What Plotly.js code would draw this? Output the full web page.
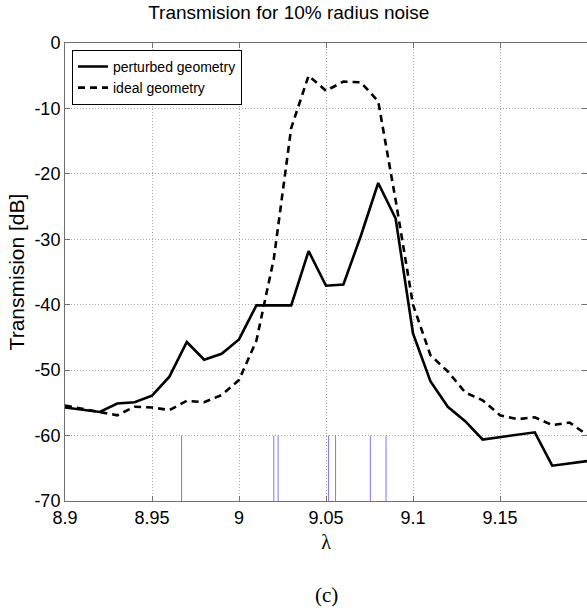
<!DOCTYPE html>
<html>
<head>
<meta charset="utf-8">
<script src="https://cdn.plot.ly/plotly-3.0.1.min.js"></script>
<style>html,body{margin:0;padding:0;background:#fff;}#chart{width:587px;height:608px;}</style>
</head>
<body>
<div id="chart"></div>
<script>
// wavelength samples
const lambda = [8.90, 8.91, 8.92, 8.93, 8.94, 8.95, 8.96, 8.97, 8.98, 8.99,
                9.00, 9.01, 9.02, 9.03, 9.04, 9.05, 9.06, 9.07, 9.08, 9.09,
                9.10, 9.11, 9.12, 9.13, 9.14, 9.15, 9.16, 9.17, 9.18, 9.19, 9.20];
// perturbed geometry (solid)
const perturbed = [-55.7, -56.0, -56.4, -55.1, -54.9, -53.9, -51.0, -45.7, -48.4, -47.5,
                   -45.3, -40.1, -40.1, -40.1, -31.8, -37.1, -36.9, -29.5, -21.4, -26.8,
                   -44.4, -51.7, -55.6, -57.8, -60.6, -60.2, -59.9, -59.5, -64.6, -64.2, -63.9];
// ideal geometry (dashed)
const ideal = [-55.4, -55.9, -56.3, -56.9, -55.6, -55.7, -56.1, -54.7, -54.9, -53.8,
               -51.5, -45.5, -33.0, -13.0, -5.0, -7.3, -5.9, -6.0, -8.9, -24.0,
               -40.0, -47.7, -50.2, -53.4, -54.6, -56.9, -57.5, -57.2, -58.4, -58.0, -59.9];
// vertical marker positions (blue lines)
const markerX = [8.967, 9.020, 9.0225, 9.0515, 9.0555, 9.0755, 9.0845];
const markerTop = -60;
const markerBottom = -70;

const xTickVals = [8.9, 8.95, 9.0, 9.05, 9.1, 9.15];
const xTickText = ['8.9', '8.95', '9', '9.05', '9.1', '9.15'];
const yTickVals = [0, -10, -20, -30, -40, -50, -60, -70];
const yTickText = ['0', '-10', '-20', '-30', '-40', '-50', '-60', '-70'];

const mx = [], my = [];
markerX.forEach(v => { mx.push(v, v, null); my.push(markerBottom, markerTop, null); });

const traces = [
  {x: mx, y: my, mode: 'lines', line: {color: '#7a7ae6', width: 1}, showlegend: false, hoverinfo: 'skip'},
  {x: lambda, y: perturbed, mode: 'lines', name: 'perturbed geometry',
   line: {color: '#000', width: 2.6}},
  {x: lambda, y: ideal, mode: 'lines', name: 'ideal geometry',
   line: {color: '#000', width: 2.6, dash: '7px,5px'}}
];

const font = 'Liberation Sans, Arial, sans-serif';
const layout = {
  width: 587, height: 608,
  margin: {l: 65, r: 0, t: 43, b: 107},
  paper_bgcolor: '#fff', plot_bgcolor: '#fff',
  font: {family: font, color: '#000', size: 18},
  title: {text: 'Transmision for 10% radius noise', x: 0.492, xref: 'container', xanchor: 'center',
          y: 0.979, yref: 'container', yanchor: 'middle', font: {family: font, size: 19, color: '#000'}},
  xaxis: {range: [8.9, 9.2], tickvals: xTickVals, ticktext: xTickText,
          showgrid: true, gridcolor: '#a8a8a8', griddash: '1px,2px', gridwidth: 1,
          showline: true, linecolor: '#707070', linewidth: 1, mirror: 'ticks',
          ticks: 'inside', ticklen: 5, tickcolor: '#707070', zeroline: false,
          tickfont: {family: font, size: 18},
          title: {text: 'λ', standoff: 8, font: {family: 'Liberation Serif, Times New Roman, serif', size: 20}}},
  yaxis: {range: [-70, 0], tickvals: yTickVals, ticktext: yTickText,
          showgrid: true, gridcolor: '#a8a8a8', griddash: '1px,2px', gridwidth: 1,
          showline: true, linecolor: '#707070', linewidth: 1, mirror: 'ticks',
          ticks: 'inside', ticklen: 5, tickcolor: '#707070', zeroline: false,
          tickfont: {family: font, size: 18},
          title: {text: 'Transmision [dB]', standoff: 4, font: {family: font, size: 21}}},
  legend: {x: 0.0134, y: 0.985, xanchor: 'left', yanchor: 'top', bgcolor: '#fff',
           bordercolor: '#000', borderwidth: 1, font: {family: font, size: 14},
           tracegroupgap: 0, itemwidth: 30},
  annotations: [{text: '(c)', xref: 'paper', yref: 'paper', x: 0.5, y: -0.205, yanchor: 'middle',
                 showarrow: false, font: {family: 'Liberation Serif, Times New Roman, serif', size: 21}}],
  showlegend: true
};

Plotly.newPlot('chart', traces, layout, {displayModeBar: false, staticPlot: true});
</script>
</body>
</html>
